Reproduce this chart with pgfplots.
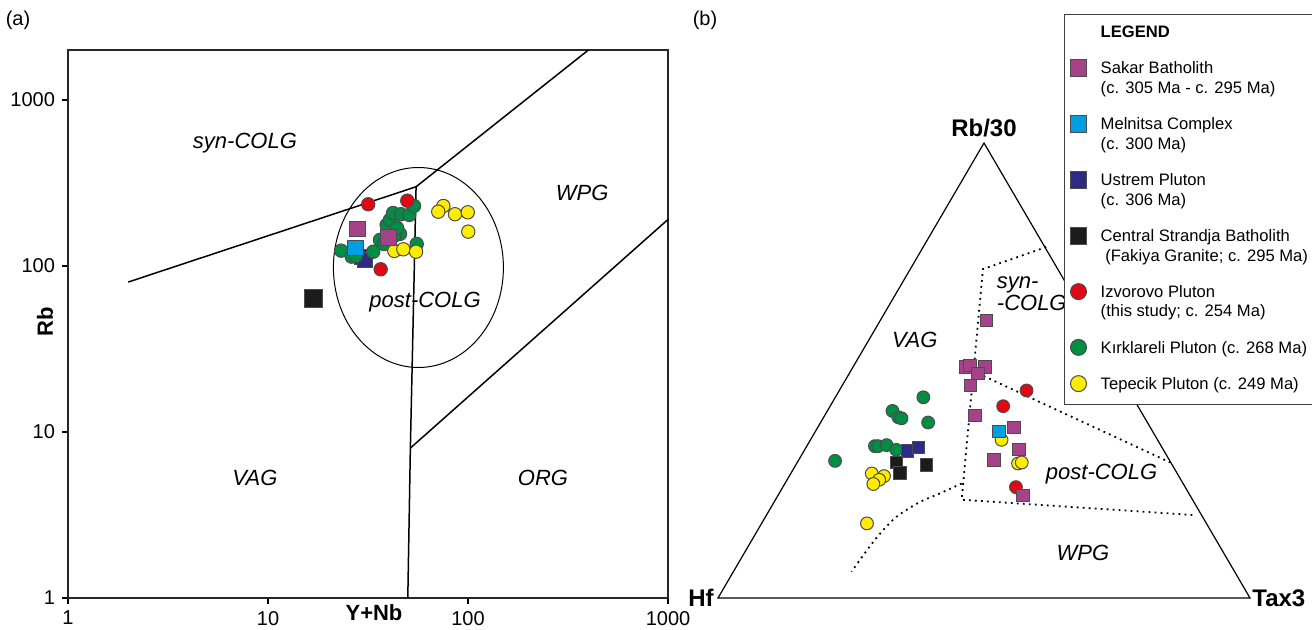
\documentclass[border=0pt]{standalone}
\usepackage{fontspec}
\setmainfont{Liberation Sans}
\usepackage{pgfplots}
\pgfplotsset{compat=1.18}
\definecolor{sakar}{RGB}{166,66,138}
\definecolor{melnitsa}{RGB}{0,158,224}
\definecolor{ustrem}{RGB}{46,42,134}
\definecolor{strandja}{RGB}{28,28,28}
\definecolor{izvorovo}{RGB}{227,6,19}
\definecolor{kirklareli}{RGB}{0,141,68}
\definecolor{tepecik}{RGB}{255,236,0}
\pgfplotsset{
  grp/.style 2 args={only marks, mark=#1, mark options={draw=black!70, line width=0.5pt, fill=#2}},
}
\newcommand{\legtext}[1]{\begin{tabular}[t]{@{}l@{}}#1\end{tabular}}
\begin{document}
\begin{tikzpicture}
\useasboundingbox (0,0) rectangle (656pt,315pt);
\node[font=\fontsize{10}{12}\selectfont] at (9pt,305pt) {(a)};
\node[font=\fontsize{10}{12}\selectfont] at (352.5pt,305pt) {(b)};
% ---------------- panel (a)
\begin{axis}[
  at={(34pt,16pt)}, anchor=south west,
  scale only axis, width=300pt, height=274pt,
  xmode=log, ymode=log, xmin=1, xmax=1000, ymin=1, ymax=2000,
  xtick={1,10,100,1000}, ytick={1,10,100,1000},
  xticklabels={1,10,100,1000}, yticklabels={1,10,100,1000},
  xminorticks=false, yminorticks=false,
  tick align=outside, tick pos=left, major tick length=3pt,
  tick style={line width=0.7pt, black},
  axis line style={line width=0.9pt, black!85},
  tick label style={font=\fontsize{10}{12}\selectfont},
  /pgf/number format/assume math mode=true,
  xlabel={Y+Nb}, ylabel={Rb},
  xlabel style={at={(axis description cs:0.51,-0.0266)}, anchor=center, font=\bfseries\fontsize{11}{13}\selectfont},
  ylabel style={at={(axis description cs:-0.0383,0.504)}, anchor=center, font=\bfseries\fontsize{11}{13}\selectfont},
]
\addplot[black, line width=0.75pt] coordinates {(2,80) (55,300)};
\addplot[black, line width=0.75pt] coordinates {(55,300) (400,2000)};
\addplot[black, line width=0.75pt] coordinates {(55,300) (51.5,8) (50,1)};
\addplot[black, line width=0.75pt] coordinates {(51.5,8) (1000,190.6)};
\draw[line width=0.5pt] (axis cs:56.5,97.9) ellipse [x radius=42.5pt, y radius=50pt];
\begin{scope}[font=\itshape\fontsize{11}{13}\selectfont]
\node at (axis cs:7.67,551) {syn-COLG};
\node at (axis cs:372,275) {WPG};
\node at (axis cs:61,60.7) {post-COLG};
\node at (axis cs:8.6,5.28) {VAG};
\node at (axis cs:237,5.28) {ORG};
\end{scope}
% Ustrem
\addplot[grp={square*}{ustrem}, mark size=3.8pt] table {
x y
29.5 113.3
30.5 108.7
};
% Kirklareli
\addplot[grp={*}{kirklareli}, mark size=3.35pt] table {
x y
23.2 123.7
26.2 113.8
27.5 114.9
33.6 121.9
36.3 143.5
38.0 135.7
39.2 176.6
40.7 189.3
42.2 208.5
46.2 205
50.9 203
53.7 229.8
45.7 156
42.7 151.7
55.4 135.7
44.2 169.4
};
% Tepecik
\addplot[grp={*}{tepecik}, mark size=3.35pt] table {
x y
75.3 229.8
71.0 212.4
86.1 205
99.7 210.6
100.3 161
42.8 123.2
47.5 126
55.0 121.9
};
% Sakar
\addplot[grp={square*}{sakar}, mark size=3.9pt] table {
x y
28.1 167.1
40.0 148.9
};
% Melnitsa
\addplot[grp={square*}{melnitsa}, mark size=3.8pt] table {
x y
27.4 127.8
};
% Izvorovo
\addplot[grp={*}{izvorovo}, mark size=3.35pt] table {
x y
31.7 235.3
49.7 247.4
36.6 95.5
};
% Strandja
\addplot[grp={square*}{strandja}, mark size=4.4pt] table {
x y
16.9 63.9
};
\end{axis}
% ---------------- panel (b)
\begin{axis}[
  at={(359pt,16pt)}, anchor=south west, scale only axis,
  width=266pt, height=227.5pt, xmin=0, xmax=100, ymin=0, ymax=86.6,
  axis lines=none, clip=false,
  legend style={at={(0.6504,1.2835)}, anchor=north west, draw=black!75,
     line width=0.7pt, fill=white,
     font=\fontsize{8.3}{9.75}\selectfont, inner xsep=2.8pt, inner ysep=4.5pt,
     row sep=8.3pt, column sep=7pt, cells={anchor=base west},
     nodes={inner sep=0pt, text depth=}},
  legend image code/.code={\draw[#1] plot coordinates {(0pt,2.9pt)};},
]
\addlegendimage{empty legend}\addlegendentry{\legtext{\textbf{LEGEND}}}
\addlegendimage{grp={square*}{sakar}, mark size=4.1pt}
\addlegendentry{\legtext{Sakar Batholith\\(c. 305 Ma - c. 295 Ma)}}
\addlegendimage{grp={square*}{melnitsa}, mark size=4.1pt}
\addlegendentry{\legtext{Melnitsa Complex\\(c. 300 Ma)}}
\addlegendimage{grp={square*}{ustrem}, mark size=4.1pt}
\addlegendentry{\legtext{Ustrem Pluton\\(c. 306 Ma)}}
\addlegendimage{grp={square*}{strandja}, mark size=4.1pt}
\addlegendentry{\legtext{Central Strandja Batholith\\\hspace*{2.3pt}(Fakiya Granite; c. 295 Ma)}}
\addlegendimage{grp={*}{izvorovo}, mark size=4pt}
\addlegendentry{\legtext{Izvorovo Pluton\\(this study; c. 254 Ma)}}
\addlegendimage{grp={*}{kirklareli}, mark size=4pt}
\addlegendentry{\legtext{Kırklareli Pluton (c. 268 Ma)}}
\addlegendimage{grp={*}{tepecik}, mark size=4pt}
\addlegendentry{\legtext{Tepecik Pluton (c. 249 Ma)}}
% triangle and field boundaries
\draw[line width=0.6pt] (axis cs:0,0) -- (axis cs:100,0) -- (axis cs:50,86.6) -- cycle;
\addplot[forget plot, black, line width=0.9pt, dash pattern=on 0.9pt off 2.1pt] coordinates {(61.7,66.8) (49.8,62.6) (45.8,18.7) (89.3,15.8)};
\addplot[forget plot, black, line width=0.9pt, dash pattern=on 0.9pt off 2.1pt] coordinates {(47.9,43.2) (85.0,25.8)};
\addplot[forget plot, black, line width=0.9pt, dash pattern=on 0.9pt off 2.1pt, smooth] coordinates {(45.8,21.8) (41.7,19.9) (38.0,18.3) (33.6,15.5) (30.5,12.3) (28.0,9.1) (25.1,5.0)};
\node[font=\bfseries\fontsize{12}{14}\selectfont, anchor=base] at (axis cs:50,86.6) [yshift=3.2pt] {Rb/30};
\node[font=\bfseries\fontsize{12}{14}\selectfont, anchor=east, inner sep=2pt] at (axis cs:0,0) {Hf};
\node[font=\bfseries\fontsize{12}{14}\selectfont, anchor=west, inner sep=1pt] at (axis cs:100,0) {Tax3};
\begin{scope}[font=\itshape\fontsize{11}{13}\selectfont]
\node at (axis cs:37.0,49.2) {VAG};
\node at (axis cs:72.1,23.6) {post-COLG};
\node at (axis cs:68.6,8.6) {WPG};
\node[align=left, anchor=west, font=\itshape\fontsize{11}{10.9}\selectfont] at (axis cs:51.1,57.85) {syn-\\-COLG};
\end{scope}
% data
\addplot[forget plot, grp={*}{kirklareli}, mark size=3.2pt] table {
x y
38.6 38.2
32.8 35.6
33.9 34.4
34.5 34.2
39.5 33.4
22.0 26.1
29.5 28.9
30.1 28.9
31.7 29.1
33.5 28.2
};
\addplot[forget plot, grp={*}{tepecik}, mark size=3.2pt] table {
x y
28.9 23.7
31.2 23.2
30.3 22.5
29.2 21.7
28.0 14.2
53.3 30.1
56.4 25.6
57.1 25.8
};
\addplot[forget plot, grp={*}{izvorovo}, mark size=3.2pt] table {
x y
58.0 39.5
53.6 36.5
56.0 21.1
};
\addplot[forget plot, grp={square*}{ustrem}, mark size=3.1pt] table {
x y
35.6 28.0
37.7 28.7
};
\addplot[forget plot, grp={square*}{strandja}, mark size=3.1pt] table {
x y
33.5 25.8
34.2 23.8
39.2 25.3
};
\addplot[forget plot, grp={square*}{sakar}, mark size=3.1pt] table {
x y
50.5 52.8
46.6 44.0
47.4 44.3
50.2 44.0
48.9 42.7
47.5 40.4
48.3 34.7
55.6 32.5
56.6 28.3
51.9 26.3
57.3 19.5
};
\addplot[forget plot, grp={square*}{melnitsa}, mark size=3.1pt] table {
x y
52.8 31.7
};
\end{axis}
\end{tikzpicture}
\end{document}
